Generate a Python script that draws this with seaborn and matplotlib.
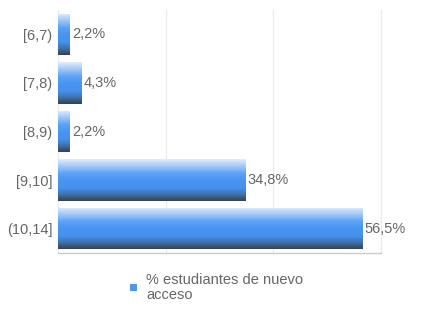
import numpy as np
import pandas as pd
import matplotlib
matplotlib.use("Agg")
import matplotlib.pyplot as plt
import seaborn as sns
from matplotlib.colors import LinearSegmentedColormap
from matplotlib.patches import Rectangle

categories = ["[6,7)", "[7,8)", "[8,9)", "[9,10]", "(10,14]"]
values = [2.2, 4.3, 2.2, 34.8, 56.5]
value_labels = ["2,2%", "4,3%", "2,2%", "34,8%", "56,5%"]
series_name = "% estudiantes de nuevo\nacceso"

sns.set_theme(style="white")
plt.rcParams['font.family'] = ['Liberation Sans', 'DejaVu Sans']

df = pd.DataFrame({"cat": categories, "val": values})

fig = plt.figure(figsize=(4.32, 3.24), dpi=100)
ax = fig.add_axes([58/432, 1 - 253/324, (381-58)/432, (253-10)/324])

sns.barplot(data=df, y="cat", x="val", orient="h", ax=ax, width=0.85,
            color="#4a96f0", saturation=1)

ax.set_xlim(0, 60)
ax.set_xticks([0, 20, 40, 60])
ax.set_xticklabels([])
ax.grid(axis="x", color="#ebebeb", linewidth=1, clip_on=False)
ax.set_axisbelow(True)
ax.tick_params(axis="x", length=0)
ax.tick_params(axis="y", length=0, labelsize=10.5, labelcolor="#666666", pad=4)
ax.set_xlabel("")
ax.set_ylabel("")
for s in ["top", "right", "left"]:
    ax.spines[s].set_visible(False)
ax.spines["bottom"].set_color("#cccccc")
ax.spines["bottom"].set_linewidth(1)

cmap = LinearSegmentedColormap.from_list(
    "g", [(0.0, "#e2edfd"), (0.35, "#5aa2f5"), (0.5, "#4896f2"),
          (0.7, "#4590ea"), (0.85, "#3f6fa8"), (1.0, "#36404e")])
grad = np.linspace(0, 1, 256).reshape(-1, 1)

for patch, lab in zip(list(ax.patches), value_labels):
    x0, y0 = patch.get_x(), patch.get_y()
    w, h = patch.get_width(), patch.get_height()
    patch.set_alpha(0)
    im = ax.imshow(grad, cmap=cmap, aspect="auto",
                   extent=[x0, x0 + w, y0 + h, y0], origin="upper",
                   zorder=3, interpolation="bilinear")
    rect = Rectangle((x0, y0), w, h, transform=ax.transData)
    im.set_clip_path(rect)
    ax.annotate(lab, (x0 + w, y0 + h / 2), xytext=(1.5, 0),
                textcoords="offset points", va="center", ha="left",
                fontsize=10.5, color="#666666", zorder=4)

ax.set_xlim(0, 60)
ax.set_ylim(4.5, -0.5)

# Legend
fig.patches.append(Rectangle((130/432, 1 - 291/324), 7/432, 7/324,
                             transform=fig.transFigure, facecolor="#5097ec",
                             edgecolor="none"))
fig.text(146/432, 1 - 287.5/324, series_name, fontsize=10.5, color="#666666",
         va="center", ha="left", linespacing=1.15)

fig.savefig("out.png", dpi=100)
